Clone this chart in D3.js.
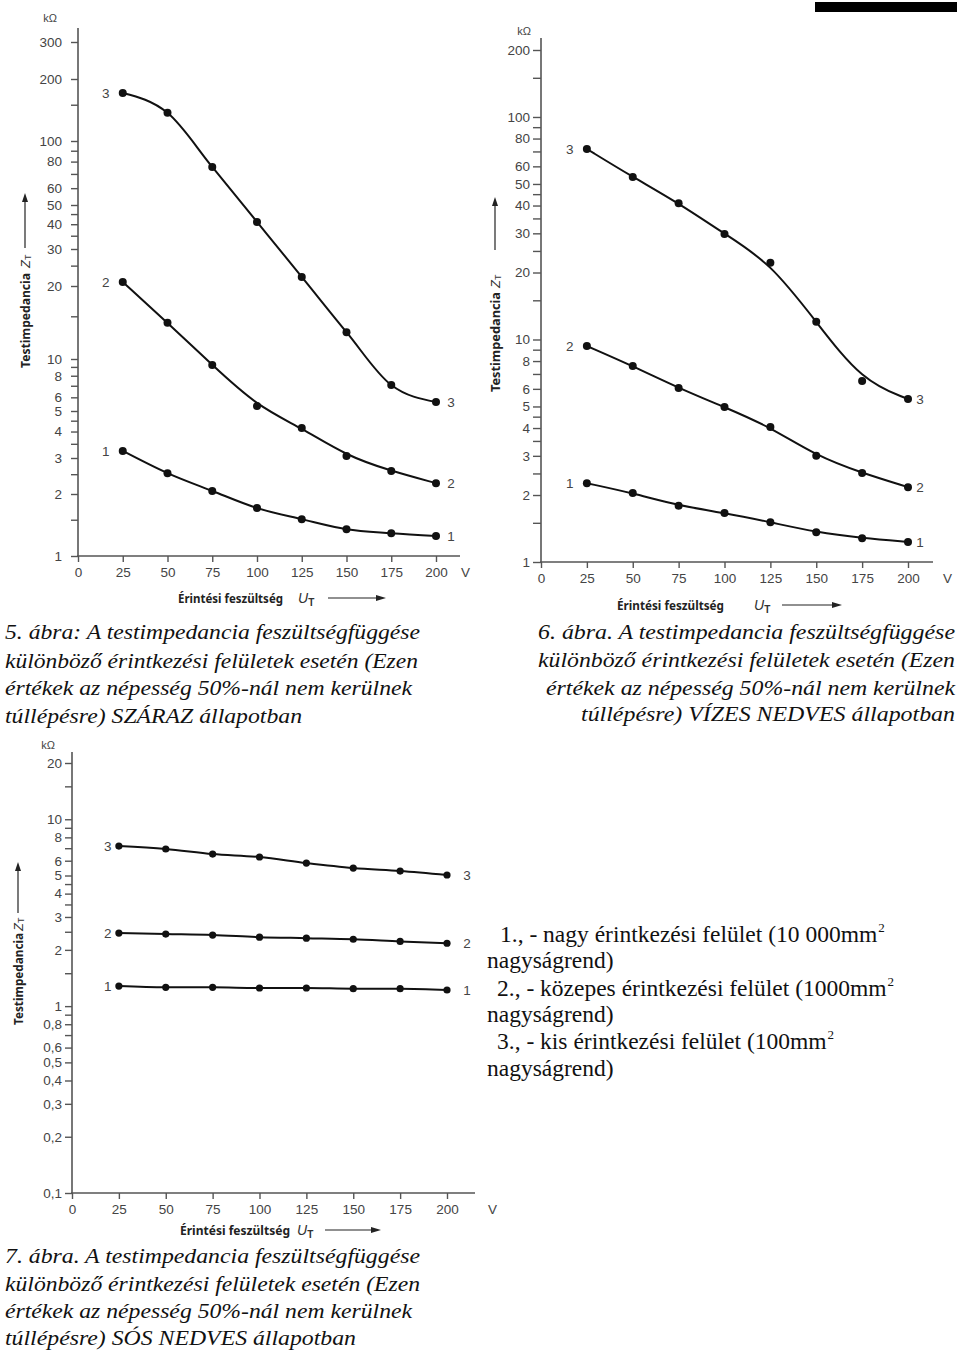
<!DOCTYPE html>
<html><head><meta charset="utf-8">
<script src="https://cdn.jsdelivr.net/npm/d3@7"></script>
<style>body{margin:0;background:#fff} svg{display:block}</style>
</head><body>
<svg id="c" width="960" height="1352"></svg>
<script>
// ---------- DATA ----------
const voltages = [25, 50, 75, 100, 125, 150, 175, 200];
const xTicks = [0, 25, 50, 75, 100, 125, 150, 175, 200];
const curveNames = ["1", "2", "3"];

// 5. ábra – SZÁRAZ
const dry1 = [3.24, 2.53, 2.07, 1.71, 1.51, 1.35, 1.29, 1.25];
const dry2 = [20.9, 14.1, 9.23, 5.34, 4.16, 3.07, 2.59, 2.26];
const dry3 = [171, 137, 75.5, 41.1, 22.1, 12.9, 7.07, 5.64];
const dryTickLabels = [1, 2, 3, 4, 5, 6, 8, 10, 20, 30, 40, 50, 60, 80, 100, 200, 300];
const dryMinorTicks = [1.5, 2.5, 3.5, 4.5, 7, 9, 15, 25, 35, 45, 70, 90, 150];

// 6. ábra – VÍZES NEDVES
const wet1 = [2.26, 2.04, 1.79, 1.66, 1.51, 1.36, 1.28, 1.23];
const wet2 = [9.35, 7.6, 6.05, 4.97, 4.04, 3.0, 2.51, 2.17];
const wet3 = [71.8, 53.7, 41, 29.8, 22.1, 12, 6.5, 5.4];
const wetTickLabels = [1, 2, 3, 4, 5, 6, 8, 10, 20, 30, 40, 50, 60, 80, 100, 200];
const wetMinorTicks = [1.5, 2.5, 3.5, 4.5, 7, 9, 15, 25, 35, 45, 70, 90, 150];

// 7. ábra – SÓS NEDVES
const salt1 = [1.28, 1.26, 1.26, 1.25, 1.25, 1.24, 1.24, 1.22];
const salt2 = [2.46, 2.43, 2.40, 2.34, 2.31, 2.28, 2.22, 2.17];
const salt3 = [7.19, 6.93, 6.51, 6.28, 5.83, 5.48, 5.28, 5.03];
const saltTickLabels = [0.1, 0.2, 0.3, 0.4, 0.5, 0.6, 0.8, 1, 2, 3, 4, 5, 6, 8, 10, 20];
const saltMinorTicks = [0.7, 0.9, 1.5, 2.5, 3.5, 4.5, 7, 9, 15];

const unitLabel = "kΩ";
const yTitle = "Testimpedancia";
const xTitle = "Érintési feszültség";
const voltUnit = "V";

const caption5 = ["5. ábra: A testimpedancia feszültségfüggése",
  "különböző érintkezési felületek esetén (Ezen",
  "értékek az népesség 50%-nál nem kerülnek",
  "túllépésre) SZÁRAZ állapotban"];
const caption6 = ["6. ábra. A testimpedancia feszültségfüggése",
  "különböző érintkezési felületek esetén (Ezen",
  "értékek az népesség 50%-nál nem kerülnek",
  "túllépésre) VÍZES NEDVES állapotban"];
const caption7 = ["7. ábra. A testimpedancia feszültségfüggése",
  "különböző érintkezési felületek esetén (Ezen",
  "értékek az népesség 50%-nál nem kerülnek",
  "túllépésre) SÓS NEDVES állapotban"];
const legendLines = ["1., - nagy érintkezési felület (10 000mm", "nagyságrend)",
  "2., - közepes érintkezési felület (1000mm", "nagyságrend)",
  "3., - kis érintkezési felület (100mm", "nagyságrend)"];
const legendSup = ["2", null, "2", null, "2", null];

// ---------- DRAWING ----------
const svg = d3.select('#c');
const AX = '#555';
const TXT = '#444';
const SANS = '"Liberation Sans", Arial, sans-serif';
const BOLD = '"Noto Sans", "Open Sans", sans-serif';
const SERIF = '"Liberation Serif", "Times New Roman", serif';

function arrowHead(g, x, y, dir) {
  const p = dir === 'up'
    ? [[x, y], [x - 3, y + 9], [x + 3, y + 9]]
    : [[x, y], [x - 10, y - 3], [x - 10, y + 3]];
  g.append('path').attr('d', d3.line()(p) + 'Z').attr('fill', '#222');
}

function drawChart(cfg) {
  const g = svg.append('g');
  const x = d3.scaleLinear().domain([0, 200]).range([cfg.x0, cfg.x200]);
  const y = d3.scaleLog().domain(cfg.yCal).range(cfg.yPix);
  const fmt = cfg.fmt || (d => String(d));
  const yBase = cfg.yBase;

  const gy = g.append('g').attr('transform', `translate(${cfg.x0},0)`)
    .call(d3.axisLeft(y).tickValues(cfg.labels).tickFormat(fmt).tickSize(cfg.tick).tickPadding(cfg.pad));
  const gm = g.append('g').attr('transform', `translate(${cfg.x0},0)`)
    .call(d3.axisLeft(y).tickValues(cfg.minor).tickFormat('').tickSize(cfg.tick));
  const gx = g.append('g').attr('transform', `translate(0,${yBase})`)
    .call(d3.axisBottom(x).tickValues(xTicks).tickSize(6).tickPadding(5));
  [gy, gm, gx].forEach(a => {
    a.select('.domain').remove();
    a.selectAll('line').attr('stroke', AX).attr('stroke-width', 1.4);
    a.selectAll('text').attr('fill', TXT).style('font-family', SANS).style('font-size', '13.5px');
  });
  g.append('line').attr('x1', cfg.x0).attr('x2', cfg.x0).attr('y1', cfg.yTop).attr('y2', yBase + 0.7)
    .attr('stroke', AX).attr('stroke-width', 1.6);
  g.append('line').attr('x1', cfg.x0 - 1).attr('x2', cfg.xEnd).attr('y1', yBase).attr('y2', yBase)
    .attr('stroke', AX).attr('stroke-width', 1.6);
  g.append('text').attr('x', cfg.vX).attr('y', yBase + 21).text(voltUnit)
    .attr('fill', TXT).style('font-family', SANS).style('font-size', '13.5px');
  g.append('text').attr('x', cfg.kX).attr('y', cfg.kY).attr('text-anchor', 'middle').text(unitLabel)
    .attr('fill', TXT).style('font-family', SANS).style('font-size', '11px');

  cfg.series.forEach((s, k) => {
    const line = d3.line().x((d, i) => x(voltages[i])).y(d => y(d)).curve(cfg.curves[k]);
    g.append('path').attr('d', line(s)).attr('fill', 'none').attr('stroke', '#111').attr('stroke-width', 2);
    g.selectAll(null).data(s).enter().append('circle')
      .attr('cx', (d, i) => x(voltages[i])).attr('cy', d => y(d)).attr('r', cfg.r).attr('fill', '#111');
    g.append('text').attr('x', x(voltages[0]) + cfg.lOff).attr('y', y(s[0]) + 5)
      .attr('text-anchor', 'middle').text(curveNames[k])
      .attr('fill', TXT).style('font-family', SANS).style('font-size', '13.5px');
    g.append('text').attr('x', x(voltages[voltages.length - 1]) + cfg.rOff).attr('y', y(s[s.length - 1]) + 5)
      .attr('text-anchor', 'middle').text(curveNames[k])
      .attr('fill', TXT).style('font-family', SANS).style('font-size', '13.5px');
  });

  const yt = cfg.yt;
  g.append('text').attr('transform', `translate(${yt.x},${yt.bottom}) rotate(-90)`)
    .attr('dominant-baseline', 'central').attr('textLength', yt.len).attr('lengthAdjust', 'spacingAndGlyphs')
    .text(yTitle).attr('fill', '#222').style('font-family', BOLD).style('font-weight', 'bold').style('font-size', '12px');
  const zt = g.append('text').attr('transform', `translate(${yt.x},${yt.z}) rotate(-90)`)
    .attr('dominant-baseline', 'central').attr('fill', '#333').style('font-family', SANS).style('font-size', '13px');
  zt.append('tspan').style('font-style', 'italic').text('Z');
  zt.append('tspan').attr('dy', 3).style('font-size', '9px').text('T');
  g.append('line').attr('x1', yt.x).attr('x2', yt.x).attr('y1', yt.a1).attr('y2', yt.a0 + 6)
    .attr('stroke', '#222').attr('stroke-width', 1.2);
  arrowHead(g, yt.x, yt.a0, 'up');

  const xt = cfg.xt;
  g.append('text').attr('x', xt.x).attr('y', xt.y).attr('dominant-baseline', 'central')
    .attr('textLength', xt.len).attr('lengthAdjust', 'spacingAndGlyphs')
    .text(xTitle).attr('fill', '#222').style('font-family', BOLD).style('font-weight', 'bold').style('font-size', '12px');
  const ut = g.append('text').attr('x', xt.u).attr('y', xt.y).attr('dominant-baseline', 'central')
    .attr('fill', '#333').style('font-family', SANS).style('font-size', '14px');
  ut.append('tspan').style('font-style', 'italic').text('U');
  ut.append('tspan').attr('dy', 4).style('font-size', '10px').style('font-weight', 'bold').text('T');
  g.append('line').attr('x1', xt.a0).attr('x2', xt.a1 - 8).attr('y1', xt.y).attr('y2', xt.y)
    .attr('stroke', '#222').attr('stroke-width', 1.2);
  arrowHead(g, xt.a1, xt.y, 'right');
}

// 5. ábra (scanned axis calibration points)
drawChart({
  x0: 78, x200: 436, xEnd: 460, vX: 461, kX: 50, kY: 22,
  yCal: [1, 2, 3, 5, 10, 20, 30, 50, 100, 200, 300],
  yPix: [556, 494, 458, 411, 359, 286, 249, 205, 141, 79, 42],
  yBase: 556, yTop: 28, tick: 7, pad: 9,
  labels: dryTickLabels, minor: dryMinorTicks,
  series: [dry1, dry2, dry3], curves: [d3.curveMonotoneX, d3.curveBasis, d3.curveMonotoneX],
  r: 4, lOff: -17, rOff: 15,
  yt: {x: 25, bottom: 368, len: 95, z: 268, a1: 248, a0: 193},
  xt: {x: 178, y: 598, len: 105, u: 298, a0: 328, a1: 386}
});

// 6. ábra
drawChart({
  x0: 541, x200: 908, xEnd: 933, vX: 943, kX: 524, kY: 35,
  yCal: [1, 200], yPix: [562, 50],
  yBase: 562, yTop: 38, tick: 8, pad: 3,
  labels: wetTickLabels, minor: wetMinorTicks,
  series: [wet1, wet2, wet3], curves: [d3.curveBasis, d3.curveBasis, d3.curveBasis],
  r: 4, lOff: -17, rOff: 12,
  yt: {x: 495, bottom: 392, len: 100, z: 288, a1: 250, a0: 197},
  xt: {x: 617, y: 605, len: 107, u: 754, a0: 782, a1: 842}
});

// 7. ábra
drawChart({
  x0: 72, x200: 447, xEnd: 475, vX: 488, kX: 48, kY: 749,
  yCal: [0.1, 20], yPix: [1193, 763],
  yBase: 1193, yTop: 752, tick: 7, pad: 3,
  labels: saltTickLabels, minor: saltMinorTicks, fmt: d => String(d).replace('.', ','),
  series: [salt1, salt2, salt3], curves: [d3.curveMonotoneX, d3.curveMonotoneX, d3.curveMonotoneX],
  r: 3.6, lOff: -11, rOff: 20,
  yt: {x: 18, bottom: 1025, len: 92, z: 931, a1: 913, a0: 862},
  xt: {x: 180, y: 1230, len: 110, u: 297, a0: 325, a1: 381}
});

function caption(lines, opts) {
  lines.forEach((t, i) => {
    const w = opts.widths[i];
    const x0 = opts.align === 'right' ? opts.x - w : opts.x;
    svg.append('text').attr('x', x0).attr('y', opts.ys[i])
      .attr('textLength', w).attr('lengthAdjust', 'spacingAndGlyphs')
      .attr('fill', '#111').style('font-family', SERIF).style('font-style', 'italic').style('font-size', '21px')
      .text(t);
  });
}
caption(caption5, {x: 5, align: 'left', ys: [639, 668, 695, 723], widths: [415, 413, 407, 297]});
caption(caption6, {x: 955, align: 'right', ys: [639, 667, 695, 721], widths: [417, 417, 409, 374]});
caption(caption7, {x: 5, align: 'left', ys: [1263, 1291, 1318, 1345], widths: [415, 415, 407, 351]});

// legend
const legX = [500, 487, 497, 487, 497, 487];
const legY = [942, 968, 996, 1022, 1049, 1076];
legendLines.forEach((t, i) => {
  const tx = svg.append('text').attr('x', legX[i]).attr('y', legY[i]).attr('fill', '#111')
    .style('font-family', SERIF).style('font-size', '23.5px').text(t);
  if (legendSup[i]) {
    const w = tx.node().getComputedTextLength();
    svg.append('text').attr('x', legX[i] + w + 1).attr('y', legY[i] - 10).attr('fill', '#111')
      .style('font-family', SERIF).style('font-size', '13px').text(legendSup[i]);
  }
});

svg.append('rect').attr('x', 815).attr('y', 2).attr('width', 142).attr('height', 10).attr('fill', '#000');
</script>
</body></html>
